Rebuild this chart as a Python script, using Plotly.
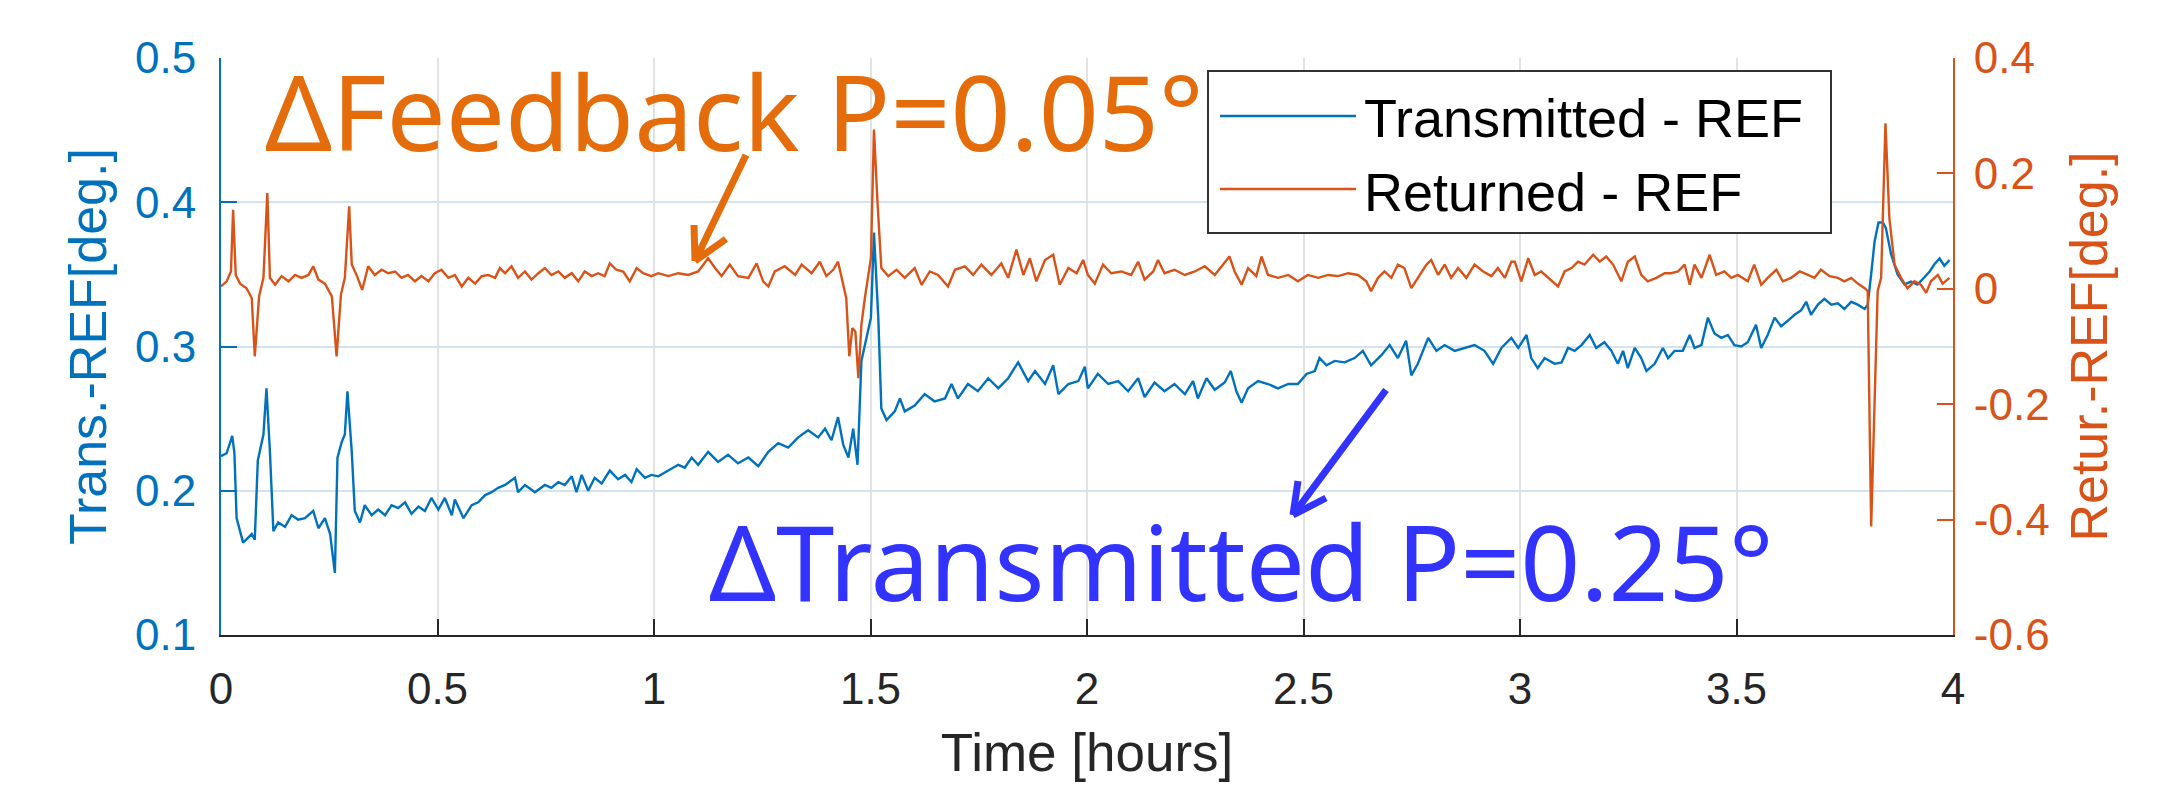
import plotly.graph_objects as go

# ---------------- data ----------------
t_trans = [0.0, 0.013, 0.026, 0.031, 0.036, 0.051, 0.071, 0.078, 0.085, 0.098, 0.105, 0.113, 0.121, 0.132, 0.148,
           0.163, 0.178, 0.194, 0.213, 0.225, 0.240, 0.252, 0.263, 0.269, 0.279, 0.286, 0.292, 0.302, 0.309, 0.321,
           0.332, 0.348, 0.363, 0.379, 0.394, 0.409, 0.425, 0.440, 0.456, 0.471, 0.486, 0.502, 0.517, 0.533, 0.540,
           0.560, 0.579, 0.594, 0.610, 0.625, 0.640, 0.656, 0.679, 0.686, 0.702, 0.725, 0.748, 0.763, 0.779, 0.794,
           0.810, 0.821, 0.833, 0.848, 0.863, 0.879, 0.898, 0.917, 0.933, 0.948, 0.960, 0.979, 0.994,
           1.010, 1.033, 1.056, 1.071, 1.087, 1.102, 1.125, 1.148, 1.171, 1.194, 1.218, 1.241, 1.264, 1.287, 1.310,
           1.333, 1.356, 1.379, 1.395, 1.410, 1.425, 1.437, 1.449, 1.460, 1.470, 1.479, 1.491, 1.501, 1.508, 1.518,
           1.525, 1.537, 1.556, 1.568, 1.579, 1.602, 1.625, 1.648, 1.672, 1.687, 1.702, 1.725, 1.748, 1.772, 1.795,
           1.818, 1.841, 1.864, 1.880, 1.903, 1.922, 1.934, 1.957, 1.980, 1.995,
           2.002, 2.025, 2.049, 2.072, 2.095, 2.118, 2.133, 2.156, 2.179, 2.202, 2.226, 2.245, 2.256, 2.276, 2.295,
           2.318, 2.332, 2.345, 2.357, 2.372, 2.395, 2.418, 2.441, 2.465, 2.487, 2.507, 2.526, 2.537, 2.553, 2.572,
           2.595, 2.618, 2.637, 2.656, 2.680, 2.699, 2.718, 2.737, 2.749, 2.764, 2.788, 2.807, 2.826, 2.849, 2.872,
           2.895, 2.918, 2.938, 2.957, 2.980,
           2.996, 3.015, 3.026, 3.041, 3.057, 3.080, 3.096, 3.111, 3.126, 3.142, 3.161, 3.176, 3.195, 3.211, 3.226,
           3.238, 3.249, 3.265, 3.280, 3.292, 3.311, 3.330, 3.342, 3.357, 3.376, 3.392, 3.403, 3.419, 3.434, 3.449,
           3.465, 3.480, 3.495, 3.511, 3.526, 3.545, 3.557, 3.572, 3.588, 3.603, 3.619, 3.634, 3.649, 3.661, 3.672,
           3.688, 3.703, 3.719, 3.734, 3.749, 3.765, 3.780, 3.796, 3.803, 3.811, 3.819, 3.828, 3.838, 3.845, 3.857,
           3.872, 3.888, 3.903, 3.918, 3.934, 3.946, 3.957, 3.969, 3.980, 3.992]
v_trans = [0.224, 0.226, 0.238, 0.226, 0.181, 0.164, 0.170, 0.166, 0.221, 0.239, 0.271, 0.227, 0.172, 0.178, 0.175,
           0.183, 0.180, 0.181, 0.186, 0.174, 0.181, 0.170, 0.143, 0.223, 0.234, 0.239, 0.269, 0.227, 0.186, 0.178,
           0.190, 0.183, 0.187, 0.183, 0.190, 0.188, 0.192, 0.184, 0.189, 0.186, 0.195, 0.187, 0.195, 0.183, 0.194,
           0.181, 0.190, 0.192, 0.197, 0.199, 0.202, 0.204, 0.209, 0.199, 0.204, 0.199, 0.204, 0.202, 0.206, 0.204,
           0.210, 0.199, 0.211, 0.200, 0.209, 0.205, 0.214, 0.208, 0.211, 0.206, 0.215, 0.209, 0.211,
           0.210, 0.214, 0.218, 0.216, 0.223, 0.218, 0.227, 0.220, 0.225, 0.219, 0.223, 0.217, 0.227, 0.233, 0.230,
           0.237, 0.242, 0.237, 0.243, 0.235, 0.251, 0.232, 0.223, 0.243, 0.218, 0.290, 0.306, 0.320, 0.379, 0.320,
           0.257, 0.249, 0.255, 0.264, 0.255, 0.259, 0.267, 0.262, 0.264, 0.274, 0.264, 0.274, 0.269, 0.278, 0.271,
           0.278, 0.289, 0.276, 0.283, 0.274, 0.287, 0.267, 0.274, 0.276, 0.286,
           0.271, 0.281, 0.274, 0.276, 0.269, 0.278, 0.265, 0.275, 0.269, 0.274, 0.267, 0.276, 0.264, 0.278, 0.270,
           0.275, 0.283, 0.269, 0.261, 0.271, 0.276, 0.274, 0.271, 0.274, 0.274, 0.281, 0.283, 0.292, 0.287, 0.290,
           0.289, 0.292, 0.297, 0.287, 0.294, 0.301, 0.292, 0.304, 0.280, 0.288, 0.306, 0.297, 0.301, 0.297, 0.299,
           0.301, 0.297, 0.288, 0.299, 0.306,
           0.299, 0.308, 0.292, 0.285, 0.292, 0.288, 0.289, 0.299, 0.297, 0.301, 0.308, 0.299, 0.303, 0.297, 0.288,
           0.297, 0.285, 0.299, 0.292, 0.283, 0.288, 0.299, 0.292, 0.297, 0.297, 0.308, 0.299, 0.301, 0.320, 0.309,
           0.306, 0.308, 0.301, 0.300, 0.303, 0.315, 0.299, 0.308, 0.320, 0.314, 0.318, 0.322, 0.325, 0.331, 0.322,
           0.329, 0.333, 0.329, 0.330, 0.326, 0.331, 0.329, 0.326, 0.329, 0.350, 0.373, 0.386, 0.386, 0.382, 0.364,
           0.350, 0.343, 0.345, 0.343, 0.348, 0.352, 0.357, 0.361, 0.356, 0.360]

t_ret = [0.0, 0.013, 0.023, 0.028, 0.034, 0.044, 0.059, 0.071, 0.078, 0.088, 0.098, 0.107, 0.113, 0.125, 0.140,
         0.156, 0.171, 0.186, 0.202, 0.213, 0.225, 0.240, 0.256, 0.267, 0.277, 0.286, 0.296, 0.302, 0.313, 0.326,
         0.340, 0.355, 0.371, 0.386, 0.402, 0.417, 0.432, 0.448, 0.463, 0.479, 0.494, 0.509, 0.525, 0.540, 0.556,
         0.571, 0.587, 0.602, 0.617, 0.633, 0.644, 0.656, 0.671, 0.686, 0.702, 0.717, 0.733, 0.748, 0.763, 0.779,
         0.794, 0.810, 0.825, 0.840, 0.856, 0.871, 0.886, 0.898, 0.913, 0.929, 0.944, 0.960, 0.975, 0.994,
         1.010, 1.033, 1.056, 1.079, 1.102, 1.125, 1.141, 1.156, 1.175, 1.194, 1.218, 1.237, 1.252, 1.264, 1.279,
         1.302, 1.326, 1.341, 1.364, 1.383, 1.398, 1.414, 1.425, 1.437, 1.444, 1.451, 1.458, 1.465, 1.472, 1.479,
         1.487, 1.501, 1.508, 1.516, 1.525, 1.541, 1.560, 1.579, 1.602, 1.618, 1.637, 1.656, 1.679, 1.695, 1.718,
         1.737, 1.756, 1.779, 1.802, 1.818, 1.837, 1.853, 1.868, 1.883, 1.903, 1.922, 1.937, 1.957, 1.976, 1.991,
         2.002, 2.018, 2.037, 2.056, 2.079, 2.102, 2.118, 2.133, 2.153, 2.164, 2.179, 2.202, 2.226, 2.249, 2.272,
         2.295, 2.310, 2.329, 2.341, 2.357, 2.372, 2.391, 2.403, 2.418, 2.441, 2.465, 2.487, 2.510, 2.534, 2.557,
         2.580, 2.603, 2.626, 2.645, 2.656, 2.672, 2.687, 2.703, 2.718, 2.733, 2.749, 2.764, 2.784, 2.795, 2.811,
         2.826, 2.841, 2.857, 2.876, 2.895, 2.915, 2.934, 2.949, 2.965, 2.980,
         2.988, 3.003, 3.019, 3.034, 3.049, 3.065, 3.088, 3.103, 3.119, 3.134, 3.149, 3.169, 3.184, 3.199, 3.215,
         3.234, 3.249, 3.265, 3.280, 3.295, 3.315, 3.334, 3.349, 3.365, 3.380, 3.392, 3.403, 3.419, 3.438, 3.453,
         3.472, 3.488, 3.503, 3.526, 3.541, 3.557, 3.572, 3.592, 3.607, 3.626, 3.646, 3.665, 3.680, 3.695, 3.715,
         3.734, 3.749, 3.765, 3.780, 3.796, 3.803, 3.811, 3.819, 3.826, 3.834, 3.844, 3.853, 3.865, 3.880, 3.895,
         3.911, 3.926, 3.938, 3.949, 3.965, 3.976, 3.992]
v_ret = [0.004, 0.013, 0.030, 0.137, 0.024, 0.009, 0.001, -0.016, -0.117, -0.013, 0.019, 0.166, 0.019, 0.007, 0.022,
         0.013, 0.024, 0.019, 0.024, 0.039, 0.016, 0.009, -0.013, -0.117, -0.010, 0.019, 0.143, 0.042, 0.024, -0.002,
         0.039, 0.024, 0.033, 0.027, 0.030, 0.019, 0.024, 0.013, 0.022, 0.013, 0.027, 0.033, 0.019, 0.024, 0.004,
         0.019, 0.009, 0.022, 0.024, 0.019, 0.036, 0.027, 0.039, 0.019, 0.030, 0.016, 0.027, 0.036, 0.024, 0.030,
         0.019, 0.027, 0.013, 0.030, 0.022, 0.027, 0.022, 0.044, 0.033, 0.030, 0.013, 0.036, 0.027, 0.022,
         0.027, 0.022, 0.027, 0.024, 0.030, 0.053, 0.036, 0.022, 0.042, 0.022, 0.019, 0.044, 0.013, 0.004, 0.030,
         0.039, 0.024, 0.042, 0.027, 0.047, 0.022, 0.033, 0.047, 0.007, -0.016, -0.117, -0.068, -0.074, -0.155, -0.062,
         -0.016, 0.053, 0.276, 0.152, 0.036, 0.022, 0.033, 0.019, 0.036, 0.007, 0.030, 0.024, 0.004, 0.033, 0.039,
         0.024, 0.042, 0.024, 0.044, 0.019, 0.068, 0.024, 0.053, 0.013, 0.050, 0.059, 0.007, 0.036, 0.027, 0.050,
         0.024, 0.009, 0.042, 0.027, 0.030, 0.024, 0.047, 0.016, 0.030, 0.050, 0.027, 0.033, 0.024, 0.030, 0.039,
         0.024, 0.039, 0.056, 0.030, 0.007, 0.036, 0.022, 0.056, 0.024, 0.019, 0.024, 0.013, 0.024, 0.019, 0.024,
         0.022, 0.027, 0.024, 0.013, -0.004, 0.019, 0.030, 0.019, 0.042, 0.036, 0.001, 0.019, 0.042, 0.050, 0.024,
         0.042, 0.019, 0.036, 0.019, 0.042, 0.030, 0.022, 0.036, 0.019, 0.047,
         0.047, 0.013, 0.053, 0.024, 0.030, 0.019, 0.004, 0.030, 0.036, 0.047, 0.042, 0.059, 0.047, 0.056, 0.042,
         0.013, 0.047, 0.056, 0.024, 0.013, 0.019, 0.027, 0.027, 0.030, 0.042, 0.007, 0.042, 0.019, 0.059, 0.024,
         0.030, 0.019, 0.024, 0.013, 0.042, 0.007, 0.019, 0.033, 0.013, 0.019, 0.030, 0.024, 0.019, 0.033, 0.022,
         0.019, 0.013, 0.019, 0.009, 0.001, -0.004, -0.412, -0.195, -0.004, 0.019, 0.287, 0.123, 0.042, 0.019, 0.001,
         0.013, 0.007, -0.007, 0.013, 0.024, 0.009, 0.019]

x_tickvals = [0, 0.5, 1, 1.5, 2, 2.5, 3, 3.5, 4]
x_ticktext = ["0", "0.5", "1", "1.5", "2", "2.5", "3", "3.5", "4"]
left_tickvals = [0.1, 0.2, 0.3, 0.4, 0.5]
left_ticktext = ["0.1", "0.2", "0.3", "0.4", "0.5"]
right_tickvals = [-0.6, -0.4, -0.2, 0, 0.2, 0.4]
right_ticktext = ["-0.6", "-0.4", "-0.2", "0", "0.2", "0.4"]

series_names = ["Transmitted - REF", "Returned - REF"]
note_feedback = "ΔFeedback P=0.05°"
note_transmitted = "ΔTransmitted P=0.25°"

# ---------------- styling ----------------
W, H = 2169, 791
L, R, T, B = 213, 224, 50, 164
PW, PH = W - L - R, H - T - B

BLUE = "#0072BD"
ORANGE = "#D95319"
DARK = "#262626"
NOTE_ORANGE = "#E46C0A"
NOTE_BLUE = "#3333FF"
FONT = "Liberation Sans, Arial, sans-serif"
NOTE_FONT = "Noto Sans, Open Sans, sans-serif"


def PX(fx):
    return (fx - L) / PW


def PY(fy):
    return (H - B - fy) / PH


fig = go.Figure()
fig.add_trace(go.Scatter(x=t_trans, y=v_trans, mode="lines", name=series_names[0],
                         line=dict(color=BLUE, width=2.4), yaxis="y", showlegend=False))
fig.add_trace(go.Scatter(x=t_ret, y=v_ret, mode="lines", name=series_names[1],
                         line=dict(color=ORANGE, width=2.4), yaxis="y2", showlegend=False))

fig.update_layout(
    width=W, height=H, autosize=False,
    margin=dict(l=L, r=R, t=T, b=B, pad=0),
    paper_bgcolor="white", plot_bgcolor="white",
    font=dict(family=FONT),
    xaxis=dict(
        range=[0, 4], tickvals=x_tickvals, ticktext=x_ticktext,
        ticks="inside", ticklen=16, tickwidth=2, tickcolor=DARK,
        showline=True, linecolor=DARK, linewidth=2,
        showgrid=True, gridcolor="#E2E2E2", gridwidth=1.5, zeroline=False,
        tickfont=dict(size=44, color=DARK, family=FONT),
        ticklabelstandoff=14,
        title=dict(text="Time [hours]", font=dict(size=53, color=DARK, family=FONT), standoff=22),
    ),
    yaxis=dict(
        range=[0.1, 0.5], tickvals=left_tickvals, ticktext=left_ticktext,
        ticks="inside", ticklen=16, tickwidth=2, tickcolor=BLUE,
        showline=True, linecolor=BLUE, linewidth=2,
        showgrid=True, gridcolor="#D3E3F1", gridwidth=1.5, zeroline=False,
        tickfont=dict(size=44, color=BLUE, family=FONT),
        ticklabelstandoff=14,
        title=dict(text="Trans.-REF[deg.]", font=dict(size=52, color=BLUE, family=FONT), standoff=12),
    ),
    yaxis2=dict(
        range=[-0.6, 0.4], tickvals=right_tickvals, ticktext=right_ticktext,
        overlaying="y", side="right",
        ticks="inside", ticklen=16, tickwidth=2, tickcolor=ORANGE,
        showline=True, linecolor=ORANGE, linewidth=2,
        showgrid=False, zeroline=False,
        tickfont=dict(size=44, color=ORANGE, family=FONT),
        ticklabelstandoff=10,
        title=dict(text="Retur.-REF[deg.]", font=dict(size=52, color=ORANGE, family=FONT), standoff=22),
    ),
)

shapes = []
# custom legend box (MATLAB style, long line samples)
shapes.append(dict(type="rect", xref="paper", yref="paper",
                   x0=PX(1200), x1=PX(1823), y0=PY(225), y1=PY(63),
                   line=dict(color="#333333", width=2), fillcolor="white", layer="above"))
shapes.append(dict(type="line", xref="paper", yref="paper",
                   x0=PX(1212), x1=PX(1348), y0=PY(108), y1=PY(108),
                   line=dict(color=BLUE, width=2.4), layer="above"))
shapes.append(dict(type="line", xref="paper", yref="paper",
                   x0=PX(1212), x1=PX(1348), y0=PY(181), y1=PY(181),
                   line=dict(color=ORANGE, width=2.4), layer="above"))


# arrows (shaft + open chevron head)
def arrow(tail, tip, arm1, arm2, color):
    for a, b in [(tail, tip), (arm1, tip), (arm2, tip)]:
        shapes.append(dict(type="line", xref="paper", yref="paper",
                           x0=PX(a[0]), y0=PY(a[1]), x1=PX(b[0]), y1=PY(b[1]),
                           line=dict(color=color, width=7), layer="above"))


arrow((738, 147), (687, 253), (686, 217), (718, 231), NOTE_ORANGE)
arrow((1378, 382), (1285, 507), (1290, 473), (1318, 490), NOTE_BLUE)

annotations = [
    dict(xref="paper", yref="paper", x=PX(1354), y=PY(110), xanchor="left", yanchor="middle",
         text=series_names[0], showarrow=False, font=dict(size=54, color="black", family=FONT)),
    dict(xref="paper", yref="paper", x=PX(1354), y=PY(184), xanchor="left", yanchor="middle",
         text=series_names[1], showarrow=False, font=dict(size=54, color="black", family=FONT)),
    dict(xref="paper", yref="paper", x=PX(255), y=PY(102), xanchor="left", yanchor="middle",
         text=note_feedback, showarrow=False,
         font=dict(size=105, color=NOTE_ORANGE, family=NOTE_FONT)),
    dict(xref="paper", yref="paper", x=PX(699), y=PY(552), xanchor="left", yanchor="middle",
         text=note_transmitted, showarrow=False,
         font=dict(size=105, color=NOTE_BLUE, family=NOTE_FONT)),
]

fig.update_layout(shapes=shapes, annotations=annotations)
fig.write_html("out.html")
